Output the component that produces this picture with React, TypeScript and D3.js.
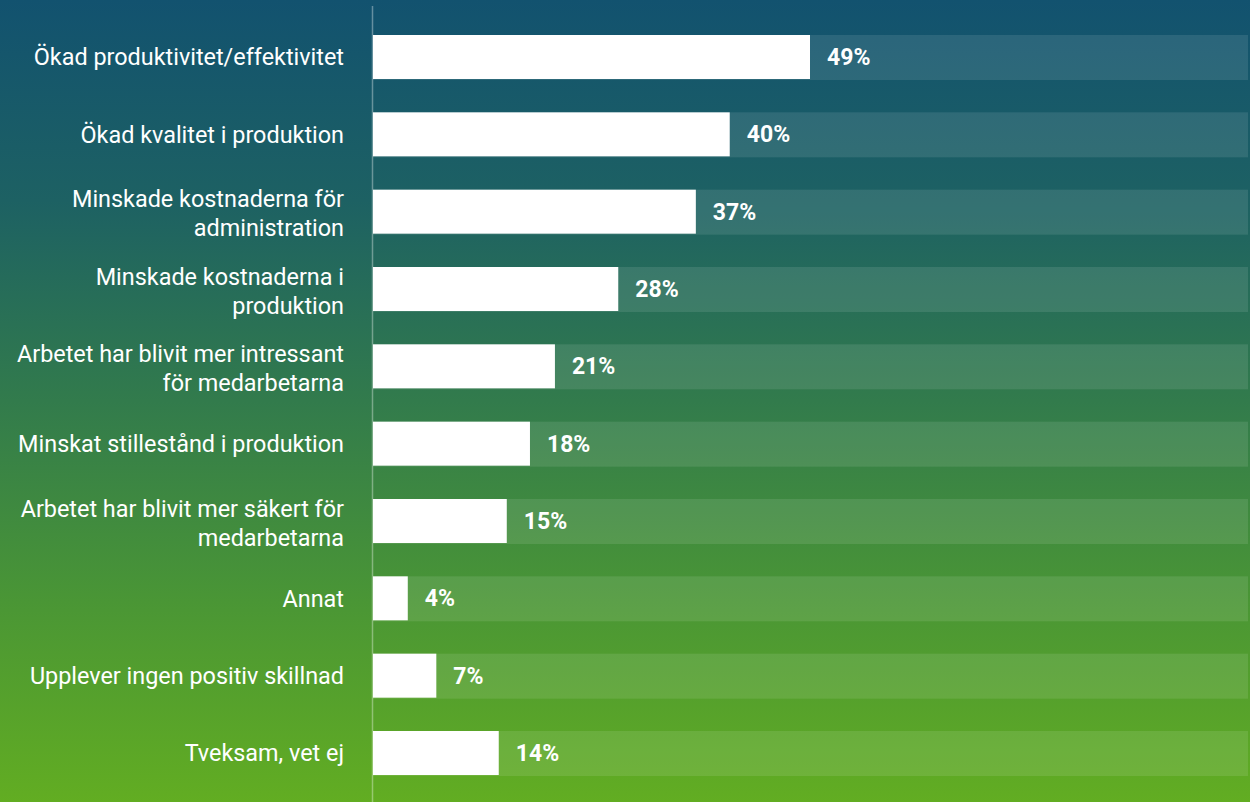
import { useEffect, useRef } from "react"
import * as d3 from "d3"

// Categories (label lines split by "|") and values
const categories = [
  "Ökad produktivitet/effektivitet",
  "Ökad kvalitet i produktion",
  "Minskade kostnaderna för|administration",
  "Minskade kostnaderna i|produktion",
  "Arbetet har blivit mer intressant|för medarbetarna",
  "Minskat stillestånd i produktion",
  "Arbetet har blivit mer säkert för|medarbetarna",
  "Annat",
  "Upplever ingen positiv skillnad",
  "Tveksam, vet ej",
]
// bar lengths as measured (unrounded) and the printed labels
const values = [49, 40, 36.2, 27.5, 20.4, 17.6, 15, 3.9, 7.1, 14.1]
const valueLabels = ["49%", "40%", "37%", "28%", "21%", "18%", "15%", "4%", "7%", "14%"]

export default function App() {
  const svgRef = useRef<SVGSVGElement>(null)

  useEffect(() => {
    if (!svgRef.current) return
    document.body.style.margin = "0"

    const W = 1250
    const H = 802
    const x0 = 373

    const svg = d3.select(svgRef.current)
    svg.selectAll("*").remove()
    svg.attr("width", W).attr("height", H)

    // Background gradient
    const defs = svg.append("defs")
    const grad = defs
      .append("linearGradient")
      .attr("id", "bg")
      .attr("x1", 0)
      .attr("y1", 0)
      .attr("x2", 0)
      .attr("y2", 1)
    grad.append("stop").attr("offset", "0%").attr("stop-color", "#12526f")
    grad.append("stop").attr("offset", "25%").attr("stop-color", "#1d6163")
    grad.append("stop").attr("offset", "50%").attr("stop-color", "#327b4c")
    grad.append("stop").attr("offset", "75%").attr("stop-color", "#4a9635")
    grad.append("stop").attr("offset", "100%").attr("stop-color", "#62ad22")

    svg.append("rect").attr("width", W).attr("height", H).attr("fill", "url(#bg)")

    const data = categories.map((c, i) => ({ label: c, value: values[i], text: valueLabels[i] }))

    // Scales
    const x = d3.scaleLinear().domain([0, 49]).range([x0, 810])
    const y = d3
      .scaleBand()
      .domain(data.map((d) => d.label))
      .range([35, 775])
      .paddingInner(0.431)
      .paddingOuter(0)

    // Track bars
    svg
      .selectAll(".track")
      .data(data)
      .enter()
      .append("rect")
      .attr("x", x0)
      .attr("y", (d) => y(d.label) || 0)
      .attr("width", 1248 - x0)
      .attr("height", y.bandwidth() + 1)
      .attr("fill", "#ffffff")
      .attr("fill-opacity", 0.1)

    // Bars
    svg
      .selectAll(".bar")
      .data(data)
      .enter()
      .append("rect")
      .attr("x", x0)
      .attr("y", (d) => y(d.label) || 0)
      .attr("width", (d) => x(d.value) - x0)
      .attr("height", y.bandwidth())
      .attr("fill", "#ffffff")

    // Axis line
    svg
      .append("line")
      .attr("x1", 372.5)
      .attr("x2", 372.5)
      .attr("y1", 6)
      .attr("y2", H)
      .attr("stroke", "#ffffff")
      .attr("stroke-opacity", 0.35)
      .attr("stroke-width", 1.5)

    // Category labels
    const labels = svg
      .selectAll(".cat")
      .data(data)
      .enter()
      .append("text")
      .attr("text-anchor", "end")
      .attr("font-family", "Roboto, sans-serif")
      .attr("font-size", "23.4px")
      .attr("fill", "#ffffff")

    labels.each(function (d) {
      const lines = d.label.split("|")
      const cy = (y(d.label) || 0) + y.bandwidth() / 2
      const lh = 29
      const start = cy - ((lines.length - 1) * lh) / 2 + (lines.length > 1 ? 2 : 0)
      lines.forEach((ln, j) => {
        d3.select(this)
          .append("tspan")
          .attr("x", 344)
          .attr("y", start + j * lh)
          .attr("dy", "0.35em")
          .text(ln)
      })
    })

    // Value labels
    svg
      .selectAll(".val")
      .data(data)
      .enter()
      .append("text")
      .attr("x", (d) => x(d.value) + 17)
      .attr("y", (d) => (y(d.label) || 0) + y.bandwidth() / 2)
      .attr("dy", "0.35em")
      .attr("font-family", "Roboto, sans-serif")
      .attr("font-weight", "bold")
      .attr("font-size", "23px")
      .attr("fill", "#ffffff")
      .text((d) => d.text)
  }, [])

  return (
    <div style={{ position: "absolute", left: 0, top: 0 }}>
      <svg ref={svgRef} style={{ display: "block" }}></svg>
    </div>
  )
}
